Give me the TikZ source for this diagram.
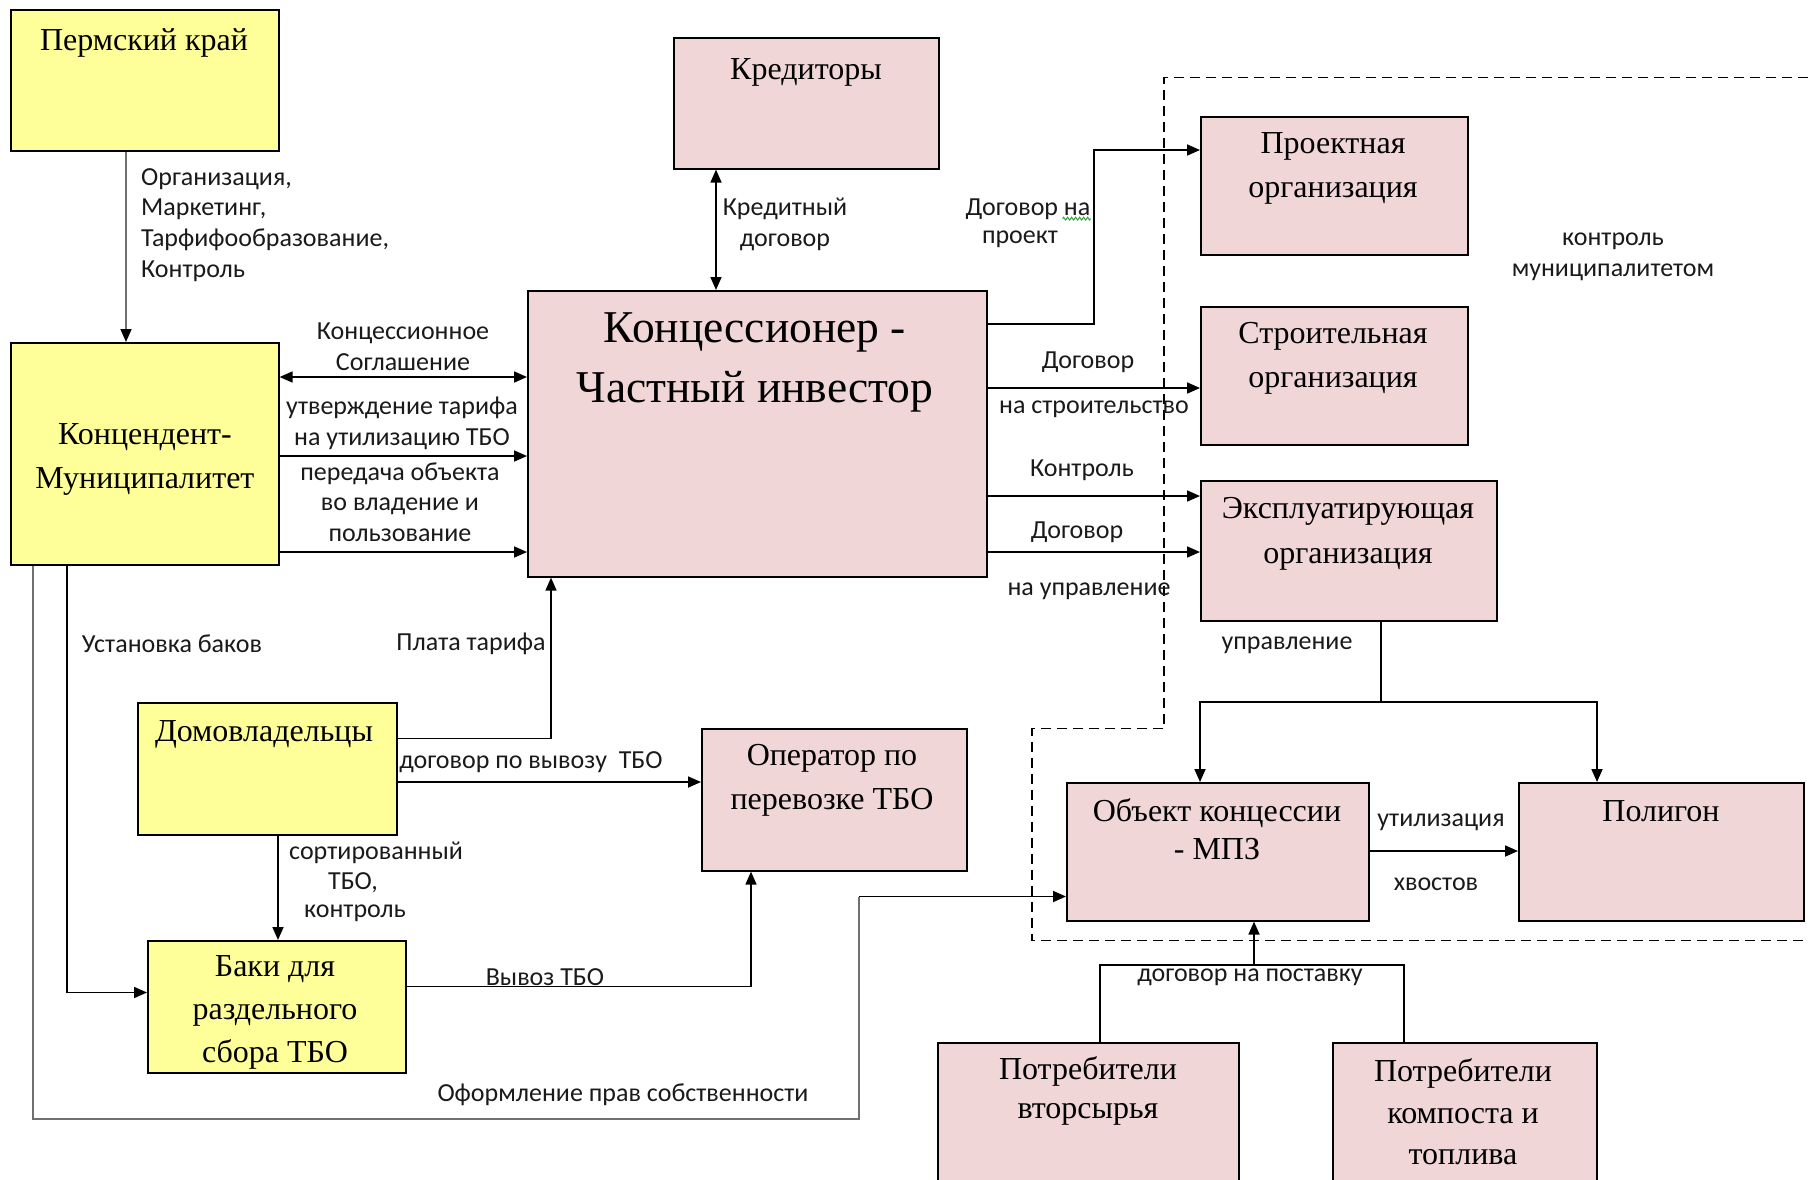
\documentclass[tikz,border=0pt]{standalone}
\usepackage{fontspec}
\setmainfont{Liberation Serif}
\newfontfamily\lblfont{Carlito}
\usetikzlibrary{arrows.meta,decorations.pathmorphing}
\definecolor{boxyellow}{HTML}{FFFF99}
\definecolor{boxpink}{HTML}{F0D6D6}
\definecolor{wiregray}{HTML}{707070}
\definecolor{spellgreen}{HTML}{3CA03C}
\definecolor{lbltext}{HTML}{1A1A1A}

\begin{document}
\begin{tikzpicture}[x=1pt,y=-1pt,
  box/.style={draw=black, line width=1.6pt, inner sep=0pt, anchor=north west},
  ybox/.style={box, fill=boxyellow},
  pbox/.style={box, fill=boxpink},
  btext/.style={font=\fontsize{32}{42}\selectfont, align=center, inner sep=0pt},
  lbl/.style={font=\lblfont\fontsize{26}{30.7}\selectfont, text=lbltext, inner sep=0pt, align=center},
  wire/.style={line width=1.7pt, draw=black},
  arr/.style={wire, -{Triangle[length=13pt,width=11pt,color=black]}},
  darr/.style={wire, {Triangle[length=13pt,width=11pt]}-{Triangle[length=13pt,width=11pt]}},
  region/.style={line width=1.6pt, dash pattern=on 10pt off 6pt},
]
\useasboundingbox (0,0) rectangle (1808,1179);
\fill[white] (0,0) rectangle (1808,1179);
\clip (0,0) rectangle (1808,1179);

% ---- participants ----
\node[ybox, minimum width=268pt, minimum height=141pt] (perm) at (10,9) {};
\node[ybox, minimum width=268pt, minimum height=222pt] (konc) at (10,342) {};
\node[pbox, minimum width=265pt, minimum height=131pt] (kred) at (673,37) {};
\node[pbox, minimum width=459pt, minimum height=286pt] (inv) at (527,290) {};
\node[pbox, minimum width=267pt, minimum height=138pt] (proekt) at (1200,116) {};
\node[pbox, minimum width=267pt, minimum height=138pt] (stroi) at (1200,306) {};
\node[pbox, minimum width=296pt, minimum height=140pt] (ekspl) at (1200,480) {};
\node[ybox, minimum width=259pt, minimum height=132pt] (dom) at (137,702) {};
\node[pbox, minimum width=265pt, minimum height=142pt] (oper) at (701,728) {};
\node[ybox, minimum width=258pt, minimum height=132pt] (baki) at (147,940) {};
\node[pbox, minimum width=302pt, minimum height=138pt] (mpz) at (1066,782) {};
\node[pbox, minimum width=285pt, minimum height=138pt] (polig) at (1518,782) {};
\node[pbox, minimum width=301pt, minimum height=160pt] (potr1) at (937,1042) {};
\node[pbox, minimum width=264pt, minimum height=160pt] (potr2) at (1332,1042) {};

% ---- box captions ----
\node[btext] (perm-t) at (144,43) {Пермский край};
\node[btext, font=\fontsize{32}{44}\selectfont] (konc-t) at (145,459) {Концендент-\\Муниципалитет};
\node[btext] (kred-t) at (806,72) {Кредиторы};
\node[btext, font=\fontsize{45.5}{60}\selectfont] (inv-t) at (755,362) {Концессионер -\\Частный инвестор};
\node[btext, font=\fontsize{32}{44}\selectfont] (proekt-t) at (1333,168) {Проектная\\организация};
\node[btext, font=\fontsize{32}{44}\selectfont] (stroi-t) at (1333,358) {Строительная\\организация};
\node[btext, font=\fontsize{32}{45}\selectfont] (ekspl-t) at (1348,534) {Эксплуатирующая\\организация};
\node[btext] (dom-t) at (264,734) {Домовладельцы};
\node[btext, font=\fontsize{32}{44}\selectfont] (oper-t) at (832,780) {Оператор по\\перевозке ТБО};
\node[btext, font=\fontsize{32}{43}\selectfont] (baki-t) at (275,1012) {Баки для\\раздельного\\сбора ТБО};
\node[btext, font=\fontsize{32}{38}\selectfont] (mpz-t) at (1217,829) {Объект концессии\\- МПЗ};
\node[btext] (polig-t) at (1661,811) {Полигон};
\node[btext, font=\fontsize{32}{39.5}\selectfont] (potr1-t) at (1088,1091) {Потребители\\вторсырья};
\node[btext, font=\fontsize{32}{41.5}\selectfont] (potr2-t) at (1463,1112) {Потребители\\компоста и\\топлива};

% ---- zone under municipal control ----
\draw[region] (1808,77.5) -- (1164,77.5) -- (1164,728.5) -- (1032,728.5) -- (1032,940.5) -- (1808,940.5);

% ---- helper levels for connectors ----
\coordinate (x33) at (33,0);
\coordinate (x67) at (67,0);
\coordinate (x126) at (126,0);
\coordinate (x278) at (278,0);
\coordinate (x551) at (551,0);
\coordinate (x716) at (716,0);
\coordinate (x751) at (751,0);
\coordinate (x859) at (859,0);
\coordinate (x1094) at (1094,0);
\coordinate (x1100) at (1100,0);
\coordinate (x1200) at (1200,0);
\coordinate (x1254) at (1254,0);
\coordinate (x1381) at (1381,0);
\coordinate (x1404) at (1404,0);
\coordinate (x1597) at (1597,0);
\coordinate (y150) at (0,150);
\coordinate (y324) at (0,324);
\coordinate (y377) at (0,377);
\coordinate (y388) at (0,388);
\coordinate (y456) at (0,456);
\coordinate (y496) at (0,496);
\coordinate (y552) at (0,552);
\coordinate (y702) at (0,702);
\coordinate (y738) at (0,738.5);
\coordinate (y782) at (0,782);
\coordinate (y851) at (0,851);
\coordinate (y896) at (0,896.5);
\coordinate (y965) at (0,965);
\coordinate (y986) at (0,986.5);
\coordinate (y992) at (0,992.5);
\coordinate (y1119) at (0,1119);

% ---- connectors ----
\draw[arr, draw=wiregray] (perm.south -| x126) -- (konc.north -| x126);
\draw[darr] (konc.east |- y377) -- (inv.west |- y377);
\draw[arr] (konc.east |- y456) -- (inv.west |- y456);
\draw[arr] (konc.east |- y552) -- (inv.west |- y552);
\draw[darr] (kred.south -| x716) -- (inv.north -| x716);
\draw[arr] (inv.east |- y324) -- (x1094 |- y324) -- (x1094 |- y150) -- (proekt.west |- y150);
\draw[arr] (inv.east |- y388) -- (stroi.west |- y388);
\draw[arr] (inv.east |- y496) -- (ekspl.west |- y496);
\draw[arr] (inv.east |- y552) -- (ekspl.west |- y552);
\draw[wire] (ekspl.south -| x1381) -- (x1381 |- y702);
\draw[arr] (x1381 |- y702) -- (x1200 |- y702) -- (mpz.north -| x1200);
\draw[arr] (x1381 |- y702) -- (x1597 |- y702) -- (polig.north -| x1597);
\draw[arr] (mpz.east |- y851) -- (polig.west |- y851);
\draw[wire] (potr1.north -| x1100) -- (x1100 |- y965) -- (x1404 |- y965) -- (potr2.north -| x1404);
\draw[arr] (x1254 |- y965) -- (mpz.south -| x1254);
\draw[arr] (dom.east |- y738) -- (x551 |- y738) -- (inv.south -| x551);
\draw[arr] (dom.east |- y782) -- (oper.west |- y782);
\draw[arr] (dom.south -| x278) -- (baki.north -| x278);
\draw[arr] (konc.south -| x67) -- (x67 |- y992) -- (baki.west |- y992);
\draw[arr] (baki.east |- y986) -- (x751 |- y986) -- (oper.south -| x751);
\draw[wire, draw=wiregray] (konc.south -| x33) -- (x33 |- y1119) -- (x859 |- y1119) -- (x859 |- y896);
\draw[arr] (x859 |- y896) -- (mpz.west |- y896);

% ---- connector labels ----
\node[lbl, align=left, anchor=west] (l-org) at (141,225) {Организация,\\Маркетинг,\\Тарфифообразование,\\Контроль};
\node[lbl] (l-agr) at (403,347) {Концессионное\\Соглашение};
\node[lbl] (l-tariff) at (402,423) {утверждение тарифа\\на утилизацию ТБО};
\node[lbl] (l-transfer) at (400,502) {передача объекта\\во владение и\\пользование};
\node[lbl] (l-credit) at (785,224) {Кредитный\\договор};
\node[lbl] (l-proj1) at (1028,209) {Договор на};
\node[lbl] (l-proj2) at (1020,239) {проект};
\draw[spellgreen, line width=1pt, decorate, decoration={zigzag, segment length=4pt, amplitude=1.4pt}]
  ([xshift=-28pt,yshift=1pt]l-proj1.south east) -- ([yshift=1pt]l-proj1.south east);
\node[lbl] (l-build1) at (1088,362) {Договор};
\node[lbl] (l-build2) at (1094,409) {на строительство};
\node[lbl] (l-ctrl) at (1082,470) {Контроль};
\node[lbl] (l-mng1) at (1077,532) {Договор};
\node[lbl] (l-mng2) at (1089,591) {на управление};
\node[lbl] (l-mun) at (1613,257) {контроль\\муниципалитетом};
\node[lbl] (l-upr) at (1287,645) {управление};
\node[lbl] (l-ustan) at (172,644) {Установка баков};
\node[lbl] (l-plata) at (471,644) {Плата тарифа};
\node[lbl] (l-vyvdog) at (531,762) {договор по вывозу~~ТБО};
\node[lbl] (l-sort1) at (376,853) {сортированный};
\node[lbl] (l-sort2) at (353,883) {ТБО,};
\node[lbl] (l-sort3) at (355,913) {контроль};
\node[lbl] (l-vyvoz) at (545,977) {Вывоз ТБО};
\node[lbl] (l-own) at (623,1095) {Оформление прав собственности};
\node[lbl] (l-util1) at (1441,822) {утилизация};
\node[lbl] (l-util2) at (1436,884) {хвостов};
\node[lbl] (l-supply) at (1250,977) {договор на поставку};
\end{tikzpicture}
\end{document}
